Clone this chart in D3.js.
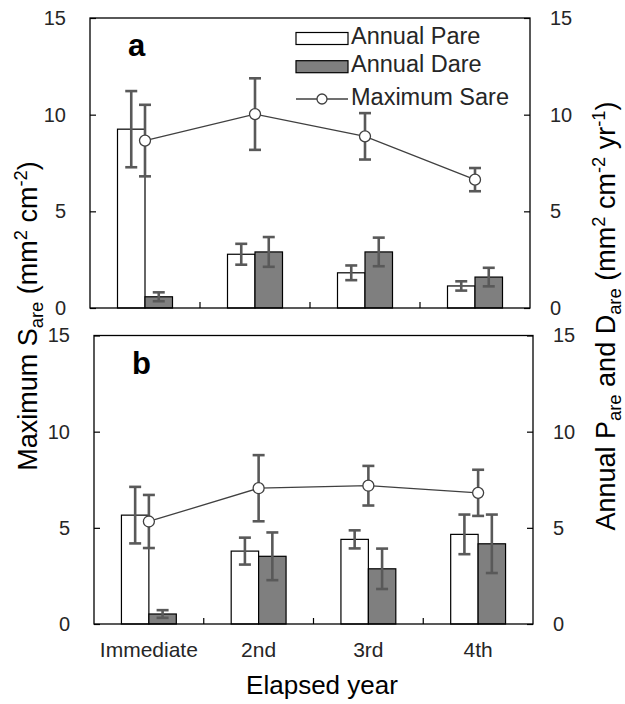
<!DOCTYPE html>
<html>
<head>
<meta charset="utf-8">
<script src="https://cdn.jsdelivr.net/npm/d3@7"></script>
<style>
  html, body { margin: 0; padding: 0; background: #fff; }
  svg { display: block; font-family: "Liberation Sans", Arial, sans-serif; }
</style>
</head>
<body>
<svg id="chart" width="625" height="704"></svg>
<script>
// Elapsed-year categories
const categories = ["Immediate", "2nd", "3rd", "4th"];
const yTickValues = [0, 5, 10, 15];

// Panel a
const pareA = [9.25, 2.78, 1.82, 1.14];
const pareAErr = [1.97, 0.54, 0.38, 0.24];
const dareA = [0.58, 2.90, 2.90, 1.60];
const dareAErr = [0.23, 0.77, 0.74, 0.48];
const sareA = [8.66, 10.03, 8.88, 6.64];
const sareAErr = [1.85, 1.85, 1.20, 0.60];

// Panel b
const pareB = [5.66, 3.79, 4.40, 4.66];
const pareBErr = [1.47, 0.70, 0.47, 1.03];
const dareB = [0.52, 3.52, 2.87, 4.17];
const dareBErr = [0.20, 1.24, 1.05, 1.52];
const sareB = [5.33, 7.06, 7.19, 6.82];
const sareBErr = [1.38, 1.72, 1.03, 1.20];

const svg = d3.select("#chart");

const BAR_GRAY = "#7f7f7f";
const ERR_COLOR = "#595959";
const LINE_COLOR = "#404040";
const TEXT_COLOR = "#262626";

function drawPanel(cfg) {
  const { left, right, top, bottom, label, pare, pareErr, dare, dareErr, sare, sareErr } = cfg;
  const g = svg.append("g");

  const x = d3.scaleBand().domain(categories).range([left, right]).paddingInner(0).paddingOuter(0);
  const y = d3.scaleLinear().domain([0, 15]).range([bottom, top]);
  const bw = x.bandwidth() * 0.25;
  const cx = d => x(d) + x.bandwidth() / 2;

  const rows = categories.map((c, i) => ({
    c, pare: pare[i], pareErr: pareErr[i], dare: dare[i], dareErr: dareErr[i], sare: sare[i], sareErr: sareErr[i]
  }));

  // Bars
  g.selectAll("rect.pare").data(rows).join("rect")
    .attr("x", d => cx(d.c) - bw).attr("width", bw)
    .attr("y", d => y(d.pare)).attr("height", d => y(0) - y(d.pare))
    .attr("fill", "#fff").attr("stroke", "#000").attr("stroke-width", 1.2);
  g.selectAll("rect.dare").data(rows).join("rect")
    .attr("x", d => cx(d.c)).attr("width", bw)
    .attr("y", d => y(d.dare)).attr("height", d => y(0) - y(d.dare))
    .attr("fill", BAR_GRAY).attr("stroke", "#000").attr("stroke-width", 1.2);

  // Error bars helper
  const cap = 6;
  function errBars(xf, vf, ef) {
    const eg = g.append("g").attr("stroke", ERR_COLOR).attr("stroke-width", 2.6).attr("fill", "none");
    rows.forEach(d => {
      const xx = xf(d), v = vf(d), e = ef(d);
      eg.append("line").attr("x1", xx).attr("x2", xx).attr("y1", y(v - e)).attr("y2", y(v + e));
      eg.append("line").attr("x1", xx - cap).attr("x2", xx + cap).attr("y1", y(v + e)).attr("y2", y(v + e));
      eg.append("line").attr("x1", xx - cap).attr("x2", xx + cap).attr("y1", y(v - e)).attr("y2", y(v - e));
    });
  }
  errBars(d => cx(d.c) - bw / 2, d => d.pare, d => d.pareErr);
  errBars(d => cx(d.c) + bw / 2, d => d.dare, d => d.dareErr);

  // Maximum Sare line
  const line = d3.line().x(d => cx(d.c)).y(d => y(d.sare));
  g.append("path").datum(rows).attr("d", line)
    .attr("fill", "none").attr("stroke", LINE_COLOR).attr("stroke-width", 1.3);
  errBars(d => cx(d.c), d => d.sare, d => d.sareErr);
  g.selectAll("circle.sare").data(rows).join("circle")
    .attr("cx", d => cx(d.c)).attr("cy", d => y(d.sare)).attr("r", 5.5)
    .attr("fill", "#fff").attr("stroke", LINE_COLOR).attr("stroke-width", 1.3);

  // Frame
  g.append("rect").attr("x", left).attr("y", top).attr("width", right - left).attr("height", bottom - top)
    .attr("fill", "none").attr("stroke", "#000").attr("stroke-width", 1.3);

  // Left axis (ticks inward)
  const leftAxis = d3.axisLeft(y).tickValues(yTickValues).tickSizeInner(-6).tickSizeOuter(0).tickPadding(24);
  const la = g.append("g").attr("transform", `translate(${left},0)`).call(leftAxis);
  la.select(".domain").remove();
  la.selectAll("line").attr("stroke", "#000").attr("stroke-width", 1.2);
  la.selectAll("text").attr("font-size", 20).attr("fill", TEXT_COLOR)
    .attr("font-family", "Liberation Sans, Arial, sans-serif");

  // Right axis (ticks inward)
  const rightAxis = d3.axisRight(y).tickValues(yTickValues).tickSizeInner(-6).tickSizeOuter(0).tickPadding(20);
  const ra = g.append("g").attr("transform", `translate(${right},0)`).call(rightAxis);
  ra.select(".domain").remove();
  ra.selectAll("line").attr("stroke", "#000").attr("stroke-width", 1.2);
  ra.selectAll("text").attr("font-size", 20).attr("fill", TEXT_COLOR)
    .attr("font-family", "Liberation Sans, Arial, sans-serif");

  // Category boundary ticks along the bottom (inward)
  const boundaries = categories.slice(1).map(c => x(c));
  g.selectAll("line.xtick").data(boundaries).join("line")
    .attr("x1", d => d).attr("x2", d => d).attr("y1", bottom).attr("y2", bottom - 6)
    .attr("stroke", "#000").attr("stroke-width", 1.2);

  // Panel letter
  g.append("text").attr("x", left + 38).attr("y", top + 38)
    .attr("font-size", 31).attr("font-weight", "bold").attr("fill", "#000").text(label);

  return { x, y, cx };
}

const panelA = drawPanel({
  left: 90, right: 530, top: 18, bottom: 308, label: "a",
  pare: pareA, pareErr: pareAErr, dare: dareA, dareErr: dareAErr, sare: sareA, sareErr: sareAErr
});
const panelB = drawPanel({
  left: 94, right: 533, top: 335.5, bottom: 624, label: "b",
  pare: pareB, pareErr: pareBErr, dare: dareB, dareErr: dareBErr, sare: sareB, sareErr: sareBErr
});

// Category labels under panel b
svg.append("g").selectAll("text").data(categories).join("text")
  .attr("x", d => panelB.cx(d)).attr("y", 657)
  .attr("text-anchor", "middle").attr("font-size", 21).attr("fill", TEXT_COLOR).text(d => d);

svg.append("text").attr("x", 322).attr("y", 694).attr("text-anchor", "middle")
  .attr("font-size", 26).attr("fill", "#000").text("Elapsed year");

// Legend (panel a)
const legend = svg.append("g").attr("font-size", 23.5).attr("fill", "#000");
const lgX = 296, lgW = 52;
const legendItems = [
  { kind: "bar", fill: "#fff", label: "Annual Pare", cy: 38.5 },
  { kind: "bar", fill: BAR_GRAY, label: "Annual Dare", cy: 66.7 },
  { kind: "line", label: "Maximum Sare", cy: 99 }
];
legendItems.forEach(it => {
  if (it.kind === "bar") {
    legend.append("rect").attr("x", lgX).attr("y", it.cy - 6).attr("width", lgW).attr("height", 12)
      .attr("fill", it.fill).attr("stroke", "#000").attr("stroke-width", 1.2);
  } else {
    legend.append("line").attr("x1", lgX).attr("x2", lgX + lgW).attr("y1", it.cy).attr("y2", it.cy)
      .attr("stroke", LINE_COLOR).attr("stroke-width", 1.3);
    legend.append("circle").attr("cx", lgX + lgW / 2).attr("cy", it.cy).attr("r", 5)
      .attr("fill", "#fff").attr("stroke", LINE_COLOR).attr("stroke-width", 1.3);
  }
  legend.append("text").attr("x", lgX + lgW + 3).attr("y", it.cy + 5.5).attr("fill", TEXT_COLOR).text(it.label);
});

// Axis titles with sub/superscripts
function richText(sel, parts, size) {
  const small = size * 0.68;
  let shift = 0;
  parts.forEach(p => {
    const t = sel.append("tspan").text(p.t);
    let target = 0;
    if (p.sub) { target = size * 0.22; t.attr("font-size", small); }
    else if (p.sup) { target = -size * 0.38; t.attr("font-size", small); }
    t.attr("dy", target - shift);
    shift = target;
  });
}

const leftTitle = svg.append("text")
  .attr("transform", "translate(37,316) rotate(-90)")
  .attr("text-anchor", "middle").attr("font-size", 27).attr("fill", "#000");
richText(leftTitle, [
  { t: "Maximum S" }, { t: "are", sub: true }, { t: " (mm" }, { t: "2", sup: true },
  { t: " cm" }, { t: "-2", sup: true }, { t: ")" }
], 27);

const rightTitle = svg.append("text")
  .attr("transform", "translate(615,316) rotate(-90)")
  .attr("text-anchor", "middle").attr("font-size", 27).attr("fill", "#000");
richText(rightTitle, [
  { t: "Annual P" }, { t: "are", sub: true }, { t: " and D" }, { t: "are", sub: true },
  { t: " (mm" }, { t: "2", sup: true }, { t: " cm" }, { t: "-2", sup: true },
  { t: " yr" }, { t: "-1", sup: true }, { t: ")" }
], 27);
</script>
</body>
</html>
